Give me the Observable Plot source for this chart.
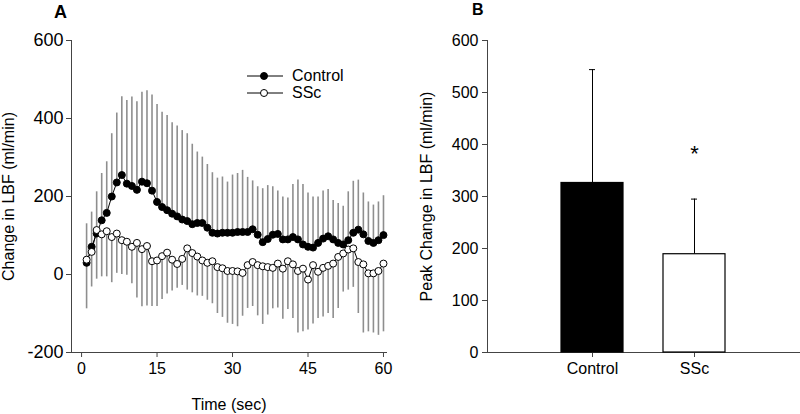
<!DOCTYPE html>
<html>
<head>
<meta charset="utf-8">
<script src="https://cdn.jsdelivr.net/npm/d3@7"></script>
<script src="https://cdn.jsdelivr.net/npm/@observablehq/plot@0.6"></script>
<style>
  body { margin: 0; background: #fff; font-family: "Liberation Sans", Arial, sans-serif; }
  #wrap { position: relative; width: 800px; height: 414px; overflow: hidden; background: #fff; }
  #a, #b { position: absolute; top: 0; }
  #a { left: 0; }
  #b { left: 400px; }
  .letter { position: absolute; font-weight: bold; line-height: 18px; color: #000; }
  #leg { position: absolute; left: 247px; top: 67px; font-size: 16px; color: #000; }
  #leg .row { display: flex; align-items: center; height: 17.5px; }
  #leg svg { margin-right: 9px; }
</style>
</head>
<body>
<div id="wrap">
  <div id="a"></div>
  <div id="b"></div>
  <div class="letter" style="left:54px; top:3px; font-size:18px;">A</div>
  <div class="letter" style="left:472px; top:1px; font-size:16px;">B</div>
  <div id="leg"></div>
</div>
<script>
// ---------- Panel A data ----------
const time = [1,2,3,4,5,6,7,8,9,10,11,12,13,14,15,16,17,18,19,20,21,22,23,24,25,26,27,28,29,30,
              31,32,33,34,35,36,37,38,39,40,41,42,43,44,45,46,47,48,49,50,51,52,53,54,55,56,57,58,59,60];
const controlMean = [30,71,105,139,158,200,236,255,233,227,217,238,234,215,186,173,165,156,149,141,
                     137,129,132,132,120,107,105,107,107,107,109,109,109,116,102,83,91,102,104,90,
                     90,96,90,77,71,69,81,92,98,90,81,77,88,107,115,103,86,81,88,101];
const controlErrTop = [130,160,212,259,289,361,414,456,446,455,443,467,471,460,436,416,408,389,381,369,
                       361,334,314,301,282,261,247,250,237,255,259,267,249,240,225,220,228,225,214,199,
                       196,231,242,231,209,199,199,214,218,190,182,175,212,239,242,209,186,178,186,202];
const sscMean = [38,58,114,103,111,96,105,88,84,71,81,65,73,34,36,47,56,38,27,40,
                 67,55,46,36,30,34,19,16,9,9,8,4,24,32,24,21,19,17,28,15,
                 34,26,9,15,-13,24,7,17,22,28,45,54,64,67,32,26,3,3,9,28];
const sscErrLow = [-88,-32,-12,-6,-6,-21,3,0,-2,-24,-60,-83,-81,-82,-82,-64,-50,-42,-35,-28,
                   -40,-47,-55,-56,-66,-75,-100,-110,-125,-128,-134,-107,-87,-82,-106,-128,-104,-88,-86,-115,
                   -90,-113,-150,-147,-142,-127,-113,-109,-100,-113,-87,-45,-40,-33,-100,-150,-147,-150,-156,-147];
const xTicksA = [0,15,30,45,60];
const yTicksA = [-200,0,200,400,600];
const legendItems = [
  { label: "Control", fill: "#000" },
  { label: "SSc", fill: "#fff" }
];

// ---------- Panel B data ----------
const groups = ["Control", "SSc"];
const peakMean = [326, 189];
const peakErrTop = [544, 295];
const peakSig = ["", "*"];
const yTicksB = [0,100,200,300,400,500,600];

const font = "Liberation Sans, Arial, sans-serif";
const fmt = d => String(d);
const errGray = "#8e8e8e";

const rowsA = time.map((t, i) => ({
  t, cm: controlMean[i], cu: controlErrTop[i], sm: sscMean[i], sl: sscErrLow[i]
}));

const plotA = Plot.plot({
  width: 400, height: 414,
  marginLeft: 71, marginRight: 14, marginTop: 40, marginBottom: 62,
  style: { fontFamily: font, fontSize: "16px", color: "#000", background: "transparent" },
  x: { domain: [-2, 60.6] },
  y: { domain: [-200, 600] },
  marks: [
    Plot.frame({ anchor: "left", stroke: "#444" }),
    Plot.frame({ anchor: "bottom", stroke: "#444" }),
    Plot.axisX({ ticks: xTicksA, tickFormat: fmt, tickSize: 5, tickPadding: 5, stroke: "#444",
                 label: "Time (sec)", labelAnchor: "center", labelOffset: 57, labelArrow: "none" }),
    Plot.axisY({ ticks: yTicksA, tickFormat: fmt, tickSize: 5, tickPadding: 3, stroke: "#444",
                 fontSize: 18, label: null }),
    Plot.axisY({ ticks: [], tickSize: 0, label: "Change in LBF (ml/min)", labelAnchor: "center",
                 labelOffset: 69, labelArrow: "none" }),
    Plot.ruleX(rowsA, { x: "t", y1: "cm", y2: "cu", stroke: errGray, strokeWidth: 1.6 }),
    Plot.ruleX(rowsA, { x: "t", y1: "sm", y2: "sl", stroke: errGray, strokeWidth: 1.6 }),
    Plot.line(rowsA, { x: "t", y: "cm", stroke: "#000", strokeWidth: 1 }),
    Plot.dot(rowsA, { x: "t", y: "cm", r: 3.5, fill: "#000", stroke: "#000", strokeWidth: 1 }),
    Plot.line(rowsA, { x: "t", y: "sm", stroke: "#000", strokeWidth: 1 }),
    Plot.dot(rowsA, { x: "t", y: "sm", r: 3.5, fill: "#fff", stroke: "#000", strokeWidth: 1 })
  ]
});
document.getElementById("a").appendChild(plotA);

const rowsB = groups.map((g, i) => ({ g, v: peakMean[i], err: peakErrTop[i], sig: peakSig[i] }));

const plotB = Plot.plot({
  width: 400, height: 414,
  marginLeft: 87, marginRight: 0, marginTop: 40, marginBottom: 62,
  style: { fontFamily: font, fontSize: "16px", color: "#000", background: "transparent" },
  x: { domain: groups, paddingInner: 0.39, paddingOuter: 0.715 },
  y: { domain: [0, 600] },
  marks: [
    Plot.frame({ anchor: "left", stroke: "#444" }),
    Plot.frame({ anchor: "bottom", stroke: "#444" }),
    Plot.axisX({ tickSize: 5, tickPadding: 5, stroke: "#444", label: null }),
    Plot.axisY({ ticks: yTicksB, tickFormat: fmt, tickSize: 5, tickPadding: 4, stroke: "#444",
                 label: "Peak Change in LBF (ml/min)", labelAnchor: "center", labelOffset: 67, labelArrow: "none" }),
    Plot.ruleX(rowsB, { x: "g", y1: "v", y2: "err", stroke: "#000", strokeWidth: 1 }),
    Plot.tickY(rowsB, { x: "g", y: "err", stroke: "#000", strokeWidth: 1, insetLeft: 28, insetRight: 28 }),
    Plot.barY(rowsB, { x: "g", y: "v", fill: (d, i) => legendItems[i].fill, stroke: "#000", strokeWidth: 1.2 }),
    Plot.text(rowsB, { x: "g", y: "err", text: "sig", dy: -45, fontSize: 22, fill: "#000" })
  ]
});
document.getElementById("b").appendChild(plotB);

// ---------- Legend (panel A) ----------
const leg = document.getElementById("leg");
legendItems.forEach(item => {
  const row = document.createElement("div");
  row.className = "row";
  row.innerHTML =
    `<svg width="36" height="12"><line x1="0" x2="36" y1="6" y2="6" stroke="#000" stroke-width="1"/>` +
    `<circle cx="17" cy="6" r="3.5" fill="${item.fill}" stroke="#000" stroke-width="1"/></svg>` +
    `<span>${item.label}</span>`;
  leg.appendChild(row);
});
</script>
</body>
</html>
